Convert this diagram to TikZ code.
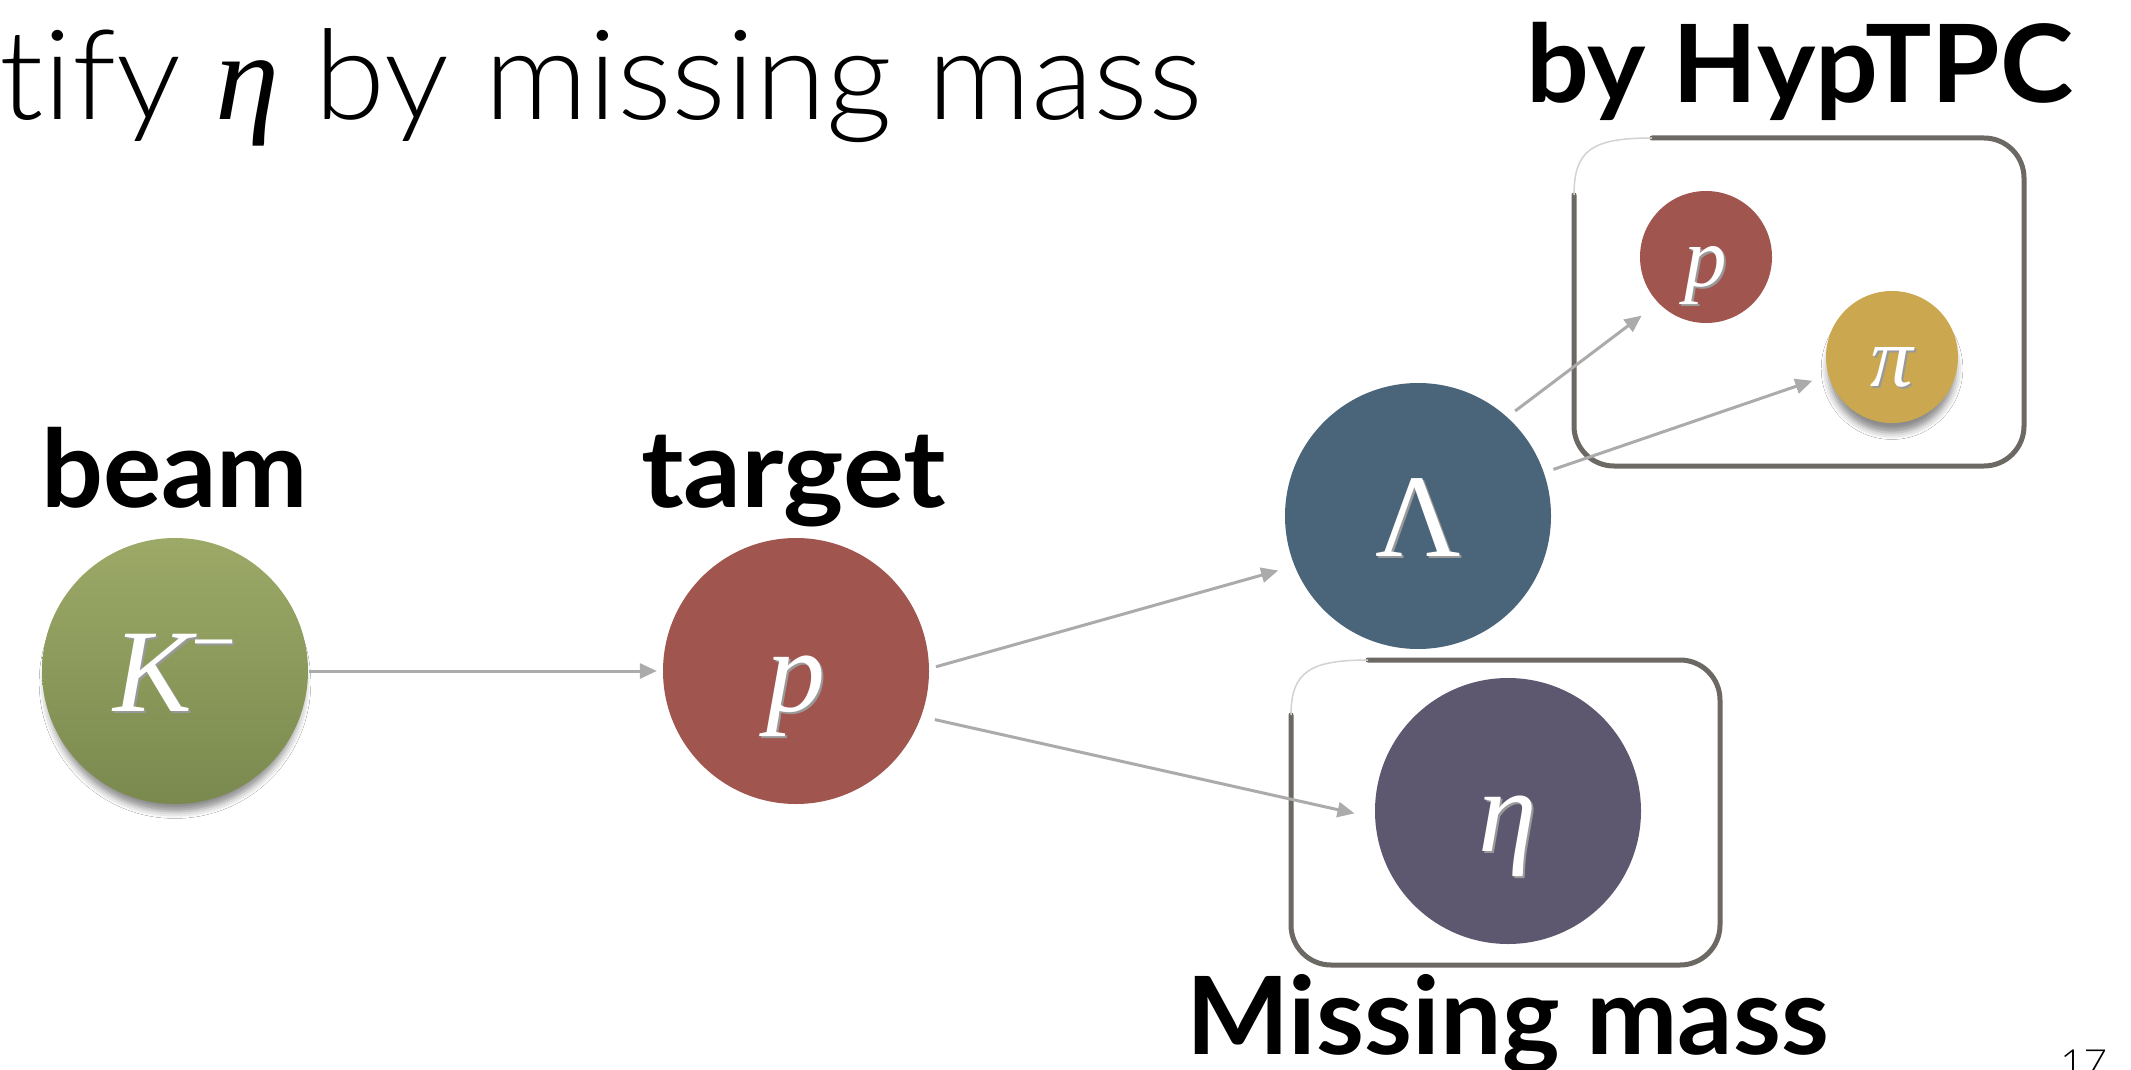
\documentclass[tikz,border=0pt]{standalone}
\usepackage{fontspec}
\usepackage{graphicx}
\usetikzlibrary{arrows.meta,shadows.blur}

\setmainfont{Lato}
\newfontfamily\glyphfont{Liberation Serif}
\IfFontExistsTF{Lato Light}
  {\newfontfamily\lightfont{Lato Light}[Ligatures=NoCommon]}
  {\IfFontExistsTF{Fira Sans Light}
     {\newfontfamily\lightfont{Fira Sans Light}[Ligatures=NoCommon]}
     {\newfontfamily\lightfont{Lato}[Ligatures=NoCommon]}}

\definecolor{kgreentop}{HTML}{9CA967}
\definecolor{kgreenbot}{HTML}{7A894E}
\definecolor{pred}{HTML}{A1554F}
\definecolor{lamblue}{HTML}{4A6479}
\definecolor{etapurple}{HTML}{5D576F}
\definecolor{pigold}{HTML}{CBA84F}
\definecolor{boxgray}{HTML}{6C6863}
\definecolor{arrowgray}{HTML}{ABABAB}

% white glyph with a soft dark copy behind it
\newcommand\dropglyph[1]{\makebox[0pt][l]{\kern2pt\raisebox{-2.5pt}{\color{black!40}#1}}#1}

\tikzset{
  ball/.style={circle, minimum size=266pt, inner sep=0pt, text=white,
    font=\glyphfont\fontsize{118}{118}\selectfont, text height=80pt, text depth=0pt},
  smallball/.style={ball, minimum size=132pt,
    font=\glyphfont\fontsize{85}{85}\selectfont, text height=58pt},
  conn/.style={draw=arrowgray, line width=3pt, -{Triangle[length=17pt,width=15pt]}},
  lbl/.style={inner sep=0pt, anchor=base west, font=\bfseries\fontsize{108}{108}\selectfont},
  boxline/.style={draw=boxgray, line width=5pt, line cap=round},
  cornerline/.style={draw=boxgray!30, line width=1.5pt},
  softshadow/.style={blur shadow={shadow xshift=0pt, shadow yshift=-12pt,
    shadow scale=0.97, shadow blur radius=7pt, shadow opacity=45}}
}

\begin{document}
\begin{tikzpicture}[x=1pt, y=-1pt]
  \useasboundingbox (0,0) rectangle (2131,1070);
  \fill[white] (0,0) rectangle (2131,1070);

  % headline
  \node[inner sep=0pt, anchor=base west, font=\lightfont\fontsize{125}{125}\selectfont]
    (title) at (-1,120) {\resizebox{1204pt}{\height}{tify {\glyphfont\itshape η} by missing mass}};

  % frames around the detected and the missing particles
  \draw[boxline, rounded corners=40pt] (1652,138) -- (2024,138) -- (2024,466) -- (1574,466) -- (1574,195);
  \draw[cornerline] (1574,195) .. controls (1574,150) and (1592,138) .. (1652,138);
  \draw[boxline, rounded corners=40pt] (1368,660) -- (1720,660) -- (1720,965) -- (1291,965) -- (1291,715);
  \draw[cornerline] (1291,715) .. controls (1291,672) and (1310,660) .. (1368,660);

  % particles
  \node[ball, softshadow, top color=kgreentop, bottom color=kgreenbot] (K) at (175,671)
    {\dropglyph{\itshape K\raisebox{43pt}{\upshape\fontsize{80}{80}\selectfont −}}};
  \node[ball, fill=pred] (P) at (796,671) {\dropglyph{\itshape p}};
  \node[ball, fill=lamblue] (L) at (1418,516) {\dropglyph{Λ}};
  \node[ball, fill=etapurple] (E) at (1508,811) {\dropglyph{\itshape η}};
  \node[smallball, fill=pred] (SP) at (1706,257) {\dropglyph{\itshape p}};
  \node[smallball, softshadow, fill=pigold] (PI) at (1892,357) {\dropglyph{\itshape π}};

  % reaction arrows
  \draw[conn, shorten <=1pt, shorten >=6pt] (K.east) -- (P.west);
  \draw[conn, shorten <=7pt, shorten >=17pt] (P.1) -- (L.202);
  \draw[conn, shorten <=14pt, shorten >=21pt] (P.-20) -- (E.183);
  \draw[conn, shorten <=10pt, shorten >=21pt] (L.48) -- (SP.224);
  \draw[conn, shorten <=10pt, shorten >=17pt] (L.19) -- (PI.196);

  % labels
  \node[lbl] (beam) at (41,507) {\resizebox{267pt}{\height}{beam}};
  \node[lbl] (target) at (641,507) {\resizebox{305pt}{\height}{target}};
  \node[lbl] (hyp) at (1526,103) {\resizebox{547pt}{\height}{by HypTPC}};
  \node[lbl] (miss) at (1186,1054) {\resizebox{643pt}{\height}{Missing mass}};
  \node[inner sep=0pt, anchor=base west, font=\lightfont\fontsize{36}{36}\selectfont]
    (page) at (2060,1075) {\resizebox{47pt}{\height}{17}};
\end{tikzpicture}
\end{document}
